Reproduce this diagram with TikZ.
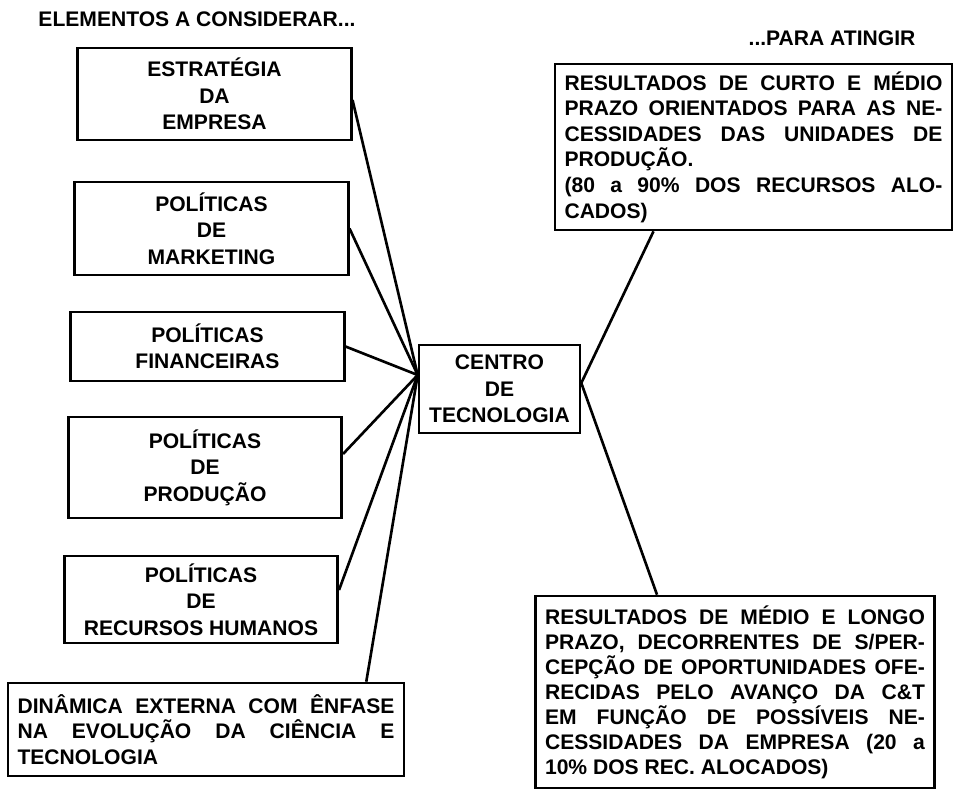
\documentclass[tikz,border=0pt]{standalone}
\usepackage{fontspec}
\setmainfont{Liberation Sans}
\usepackage{tikz}

\newcommand\semhifen{\hyphenpenalty=10000\relax\exhyphenpenalty=10000\relax}

\tikzset{
	caixa/.style={draw, line width=1.5pt, inner sep=0pt,
		font=\fontsize{12}{15}\selectfont\bfseries},
	caixaesq/.style={caixa, align=center, minimum width=5.47cm},
	caixatexto/.style={caixa, align=justify, inner xsep=0.19cm,
		font=\fontsize{12}{14.6}\selectfont\bfseries\semhifen},
	titulo/.style={font=\fontsize{12}{15}\selectfont\bfseries},
	ligacao/.style={line width=1.5pt}
}

\begin{document}
\begin{tikzpicture}[x=0.02cm, y=-0.02cm]
	\useasboundingbox (0,0) rectangle (958,796);

	% -- Titulos
	\node[titulo] (tituloesq) at (197,19) {ELEMENTOS A CONSIDERAR...};
	\node[titulo] (titulodir) at (832,38) {...PARA ATINGIR};

	% -- Elementos a considerar
	\node[caixaesq, minimum height=1.84cm] (estrategia) at (214.5,94) {ESTRATÉGIA\\DA\\EMPRESA};
	\node[caixaesq, minimum height=1.86cm] (marketing) at (211.5,228.5) {POLÍTICAS\\DE\\MARKETING};
	\node[caixaesq, minimum height=1.38cm] (financeiras) at (207.5,346.5) {POLÍTICAS\\FINANCEIRAS};
	\node[caixaesq, minimum height=2.02cm] (producao) at (205,467.5) {POLÍTICAS\\DE\\PRODUÇÃO};
	\node[caixaesq, minimum height=1.74cm] (humanos) at (201,599.5) {POLÍTICAS\\DE\\RECURSOS HUMANOS};
	\node[caixatexto, text width=7.54cm, minimum height=1.86cm] (dinamica) at (206,729.5)
		{DINÂMICA EXTERNA COM ÊNFASE\linebreak NA EVOLUÇÃO DA CIÊNCIA E\linebreak TECNOLOGIA};

	% -- Centro
	\node[caixa, align=center, minimum width=3.22cm, minimum height=1.76cm] (centro) at (499.5,389)
		{CENTRO\\DE\\TECNOLOGIA};
	\coordinate (hubesq) at ([yshift=0.28cm]centro.west);
	\coordinate (hubdir) at ([yshift=0.12cm]centro.east);

	% -- Resultados
	\node[caixatexto, text width=7.56cm, minimum height=3.32cm] (curto) at (753.5,147)
		{RESULTADOS DE CURTO E MÉDIO\linebreak PRAZO ORIENTADOS PARA AS NE-\linebreak CESSIDADES DAS UNIDADES DE\linebreak PRODUÇÃO.\\(80 a 90\% DOS RECURSOS ALO-\linebreak CADOS)};
	\node[caixatexto, text width=7.6cm, minimum height=3.84cm, font=\fontsize{12}{14.2}\selectfont\bfseries\semhifen] (longo) at (735,692)
		{RESULTADOS DE MÉDIO E LONGO\linebreak PRAZO, DECORRENTES DE S/PER-\linebreak CEPÇÃO DE OPORTUNIDADES OFE-\linebreak RECIDAS PELO AVANÇO DA C\&T\linebreak EM FUNÇÃO DE POSSÍVEIS NE-\linebreak CESSIDADES DA EMPRESA (20 a\linebreak 10\% DOS REC. ALOCADOS)};

	% -- Ligacoes
	\draw[ligacao] ([yshift=-0.12cm]estrategia.east) -- (hubesq);
	\draw[ligacao] (marketing.east) -- (hubesq);
	\draw[ligacao] (financeiras.east) -- (hubesq);
	\draw[ligacao] ([yshift=0.27cm]producao.east) -- (hubesq);
	\draw[ligacao] ([yshift=0.19cm]humanos.east) -- (hubesq);
	\draw[ligacao] ([xshift=-0.78cm]dinamica.north east) -- (hubesq);
	\draw[ligacao] (hubdir) -- ([xshift=-2cm]curto.south);
	\draw[ligacao] (hubdir) -- ([xshift=-1.56cm]longo.north);
\end{tikzpicture}
\end{document}
